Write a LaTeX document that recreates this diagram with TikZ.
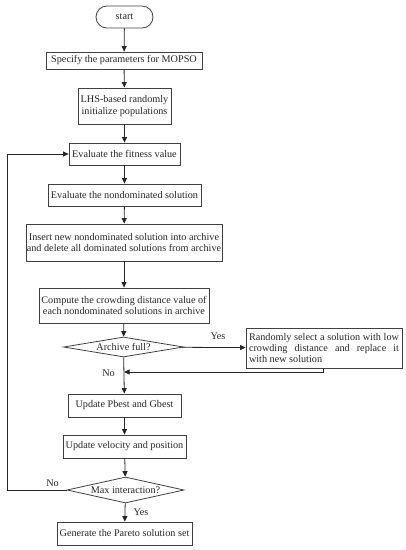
\documentclass[tikz,border=0pt]{standalone}
\usepackage{fontspec}
\setmainfont{Liberation Serif}
\usetikzlibrary{shapes.geometric,shapes.misc,arrows.meta}
\begin{document}
\begin{tikzpicture}[x=1pt,y=-1pt,
  every node/.style={font=\fontsize{10.2}{11.4}\selectfont, text=black!85},
  box/.style={draw=black!75, line width=0.8pt, inner sep=0pt, align=center},
  term/.style={draw=black!75, line width=0.8pt, rounded rectangle, inner sep=0pt},
  dec/.style={draw=black!75, line width=0.8pt, diamond, aspect=6, inner sep=0pt},
  arr/.style={draw=black!85, line width=0.8pt, -{Triangle[length=5.5pt,width=5pt]}},
  ln/.style={draw=black!85, line width=0.8pt},
  lbl/.style={inner sep=0pt}]
\useasboundingbox (0,0) rectangle (406,550);
\node[term, minimum width=57pt, minimum height=22pt] (start) at (124.5,17) {start};
\node[box, minimum width=156pt, minimum height=17pt] (spec) at (124,60.5) {Specify the parameters for MOPSO};
\node[box, minimum width=93pt, minimum height=36pt] (lhs) at (124.5,106) {LHS-based randomly\\initialize populations};
\node[box, minimum width=111pt, minimum height=22pt] (fit) at (124.5,154) {Evaluate the fitness value};
\node[box, minimum width=153pt, minimum height=22pt] (nond) at (124.5,195) {Evaluate the nondominated solution};
\node[box, minimum width=196pt, minimum height=37pt] (ins) at (124,242.5) {Insert new nondominated solution into archive\\and delete all dominated solutions from archive};
\node[box, minimum width=170pt, minimum height=35pt] (comp) at (124,305.5) {Compute the crowding distance value of\\each nondominated solutions in archive};
\node[dec, minimum width=120pt, minimum height=20pt] (arch) at (123.5,347) {Archive full?};
\node[box, minimum width=156pt, minimum height=40pt, text width=150pt, align=justify] (rand) at (324,348) {Randomly select a solution with low crowding distance and replace it\linebreak with new solution};
\node[box, minimum width=113pt, minimum height=23pt] (upd) at (124.5,405.5) {Update Pbest and Gbest};
\node[box, minimum width=123pt, minimum height=23pt] (vel) at (124.5,446.5) {Update velocity and position};
\node[dec, minimum width=117pt, minimum height=26pt] (maxi) at (125.5,490) {Max interaction?};
\node[box, minimum width=135pt, minimum height=23pt] (gen) at (124.5,533.5) {Generate the Pareto solution set};
\coordinate (j) at (124,372);
\coordinate (l1) at (7.5,490);
\coordinate (l2) at (7.5,154);
\draw[arr] (start) -- (spec);
\draw[arr] (spec) -- (lhs);
\draw[arr] (lhs) -- (fit);
\draw[arr] (fit) -- (nond);
\draw[arr] (nond) -- (ins);
\draw[arr] (ins) -- (comp);
\draw[arr] (comp) -- (arch);
\draw[arr] (arch) -- (rand);
\draw[arr] (arch) -- (upd);
\draw[arr] ([xshift=-1pt]rand.south) |- (j);
\draw[arr] (upd) -- (vel);
\draw[arr] (vel) -- (maxi);
\draw[arr] (maxi) -- (gen);
\draw[arr] (maxi.west) -- (l1) -- (l2) -- (fit.west);
\node[lbl] (y1) at (218,336) {Yes};
\node[lbl] (n1) at (108.5,373) {No};
\node[lbl] (n2) at (52.5,483) {No};
\node[lbl] (y2) at (141,512) {Yes};
\end{tikzpicture}
\end{document}
